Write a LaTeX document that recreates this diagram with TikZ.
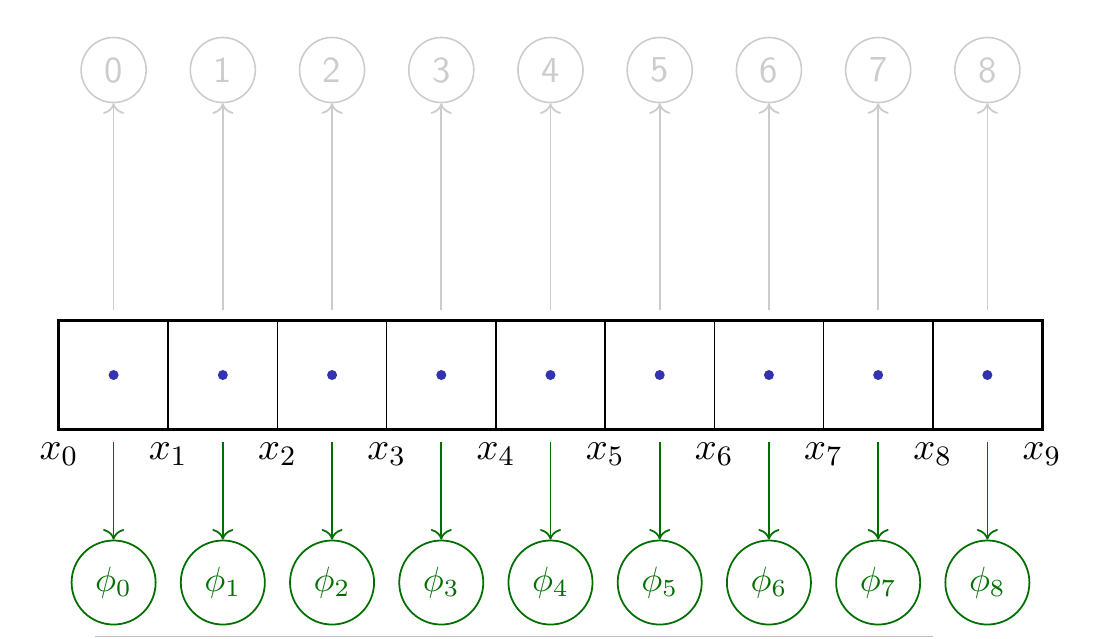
\documentclass[tikz,border=0pt]{standalone}
\usetikzlibrary{arrows.meta}
\definecolor{grayc}{RGB}{204,204,204}
\definecolor{greenc}{RGB}{0,110,0}
\definecolor{dotc}{RGB}{51,51,178}
\definecolor{baseline}{RGB}{190,190,190}
\begin{document}
\begin{tikzpicture}[x=0.01cm,y=-0.01cm,
  every node/.style={font=\fontsize{10.4}{12}\selectfont},
  cellbox/.style={draw=black,line width=0.45pt,rectangle,inner sep=0pt,minimum width=1.0922cm,minimum height=1.08cm},
  topc/.style={draw=grayc,text=grayc,circle,inner sep=0pt,minimum size=0.65cm,line width=0.45pt,font=\fontsize{10.4}{12}\selectfont\sffamily},
  botc/.style={draw=greenc,text=greenc,circle,inner sep=0pt,minimum size=0.84cm,line width=0.5pt},
  grayarrow/.style={draw=grayc,line width=0.5pt,-{To[length=3pt,width=6pt]}},
  greenarrow/.style={draw=greenc,line width=0.5pt,-{To[length=3pt,width=6pt]}},
  xlab/.style={inner sep=0pt,font=\fontsize{11}{12}\selectfont}
]
\useasboundingbox (0,0) rectangle (1106,638);
\foreach \i in {0,...,8} {
  \pgfmathsetmacro\cx{113.61+109.22*\i}
  \node[cellbox] (c\i) at (\cx,375) {};
  \fill[dotc] (c\i.center) circle (0.05cm);
  \node[topc] (t\i) at (\cx,70) {\i};
  \node[botc] (p\i) at (\cx,582.5) {$\phi_{\i}$};
  \coordinate (a\i) at (\cx,310);
  \coordinate (b\i) at (\cx,442);
  \draw[grayarrow] (a\i) -- (t\i);
  \draw[greenarrow] (b\i) -- (p\i);
}
\draw[line width=0.85pt] (c0.north west) rectangle (c8.south east);
\foreach \i in {0,...,9} {
  \pgfmathsetmacro\xx{59+109.22*\i}
  \node[xlab] (x\i) at (\xx,454) {$x_{\i}$};
}
\draw[draw=baseline,line width=0.35pt] (95,636.8) -- (933,636.8);
\end{tikzpicture}
\end{document}
